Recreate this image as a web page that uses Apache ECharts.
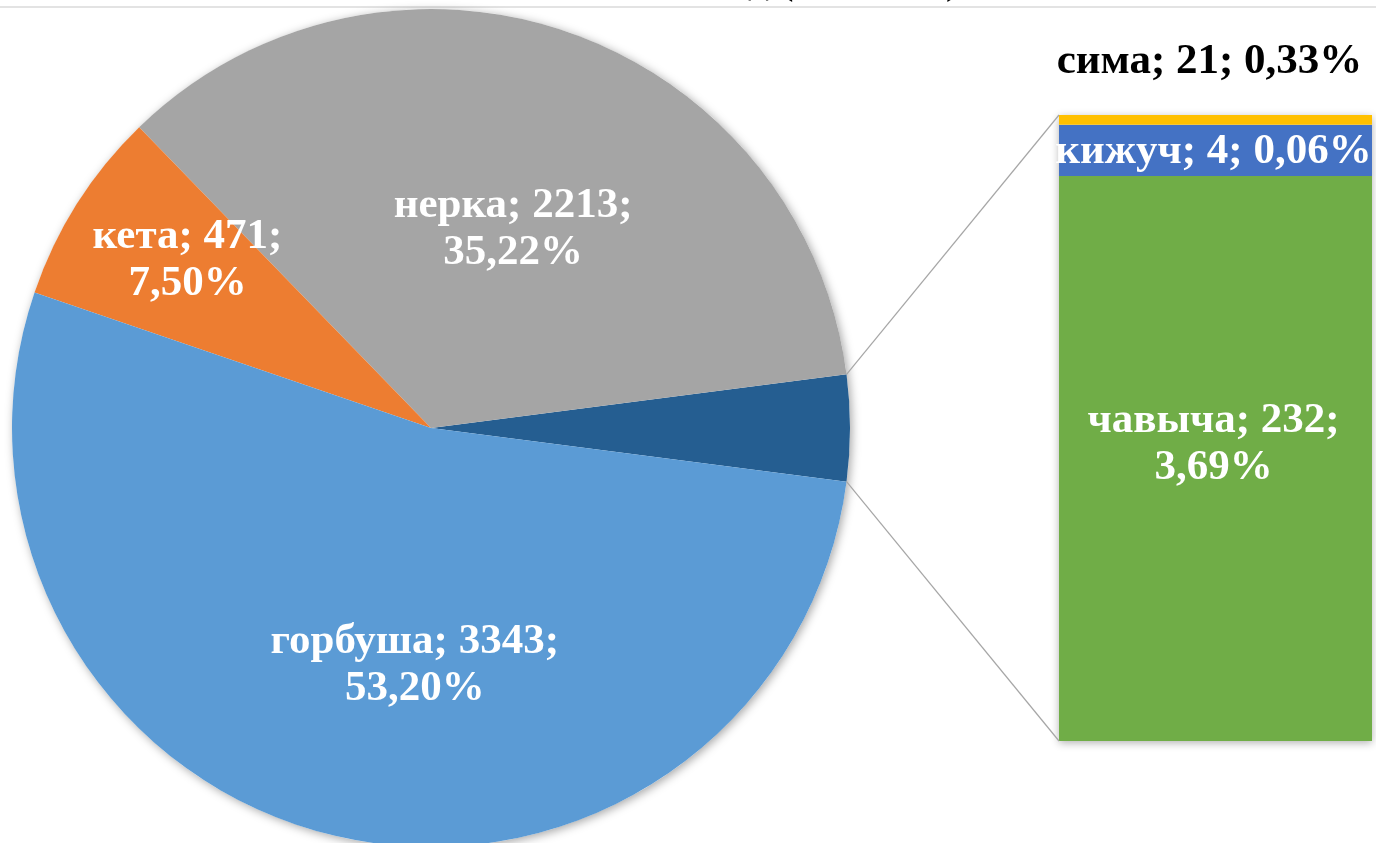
<!DOCTYPE html>
<html>
<head>
<meta charset="utf-8">
<title>pie of bar</title>
<script src="https://cdn.jsdelivr.net/npm/echarts@6/dist/echarts.min.js"></script>
<style>
  html, body { margin: 0; padding: 0; background: #fff; }
  #chart { width: 1376px; height: 843px; }
</style>
</head>
<body>
<div id="chart"></div>
<script>
// main pie
const pieNames = ['нерка', 'кета', 'горбуша'];
const pieValues = [2213, 471, 3343];
// secondary bar (labels use the real values)
const barNames = ['чавыча', 'кижуч', 'сима'];
const barValues = [232, 4, 21];
// segment sizes as they are drawn in the picture
const barDrawn = [232, 21, 4];
const titleText = 'Вылов лососей за 2020 год (тонн, %)';

const otherValue = barValues.reduce((a, b) => a + b, 0);
const total = pieValues.reduce((a, b) => a + b, 0) + otherValue;
const drawnTotal = barDrawn.reduce((a, b) => a + b, 0);

const pct = v => (v / total * 100).toFixed(2).replace('.', ',') + '%';

const W = 1376, H = 843;
const cx = 431, cy = 428, R = 419;
const gridLeft = 1059, gridRight = 4, gridTop = 115, gridBottom = 102;

const pieColors = ['#255E91', '#A5A5A5', '#ED7D31', '#5B9BD5'];
const barColors = ['#70AD47', '#4472C4', '#FFC000'];
// nudges of the inside labels (by pie data index); echarts seems to apply them twice
const pieLabelShift = [null, [6, 1], [-32, -27], [16, 15]];

const font = {
  fontFamily: 'Liberation Serif, Times New Roman, serif',
  fontWeight: 'bold',
  fontSize: 43,
  lineHeight: 47
};

const pieData = [{ name: 'прочие', value: otherValue, label: { show: false } }]
  .concat(pieNames.map((n, i) => ({ name: n, value: pieValues[i] })));

const chart = echarts.init(document.getElementById('chart'), null, { renderer: 'canvas' });

const barSeries = barNames.map((n, i) => {
  let label;
  if (i === 0) {
    label = Object.assign({ show: true, position: 'inside', color: '#fff', offset: [-2, -14],
      formatter: () => n + '; ' + barValues[i] + ';\n' + pct(barValues[i]) }, font);
  } else if (i === 1) {
    label = Object.assign({ show: true, position: 'inside', color: '#fff', offset: [-2, 2],
      formatter: () => n + '; ' + barValues[i] + '; ' + pct(barValues[i]) }, font);
  } else {
    label = Object.assign({ show: true, position: 'top', distance: 30, color: '#000', offset: [-6, 0],
      formatter: () => n + '; ' + barValues[i] + '; ' + pct(barValues[i]) }, font);
  }
  return {
    type: 'bar',
    name: n,
    stack: 'mini',
    data: [barDrawn[i]],
    barWidth: '100%',
    barGap: '-100%',
    itemStyle: { color: barColors[i] },
    label: label,
    silent: true,
    z: 3
  };
});

chart.setOption({
  animation: false,
  backgroundColor: '#fff',
  title: {
    text: titleText,
    right: 411,
    top: -46,
    textStyle: Object.assign({ color: '#000' }, font, { fontSize: 42 })
  },
  grid: { left: gridLeft, right: gridRight, top: gridTop, bottom: gridBottom },
  xAxis: { type: 'category', data: ['x'], show: false },
  yAxis: { type: 'value', min: 0, max: drawnTotal, show: false },
  series: [
    {
      // shadow under the whole pie
      type: 'pie',
      center: [cx, cy],
      radius: R,
      silent: true,
      label: { show: false },
      data: [{ value: 1, itemStyle: { color: '#fff', shadowBlur: 10, shadowColor: 'rgba(0,0,0,0.35)', shadowOffsetX: 2, shadowOffsetY: 2 } }],
      z: 1
    },
    {
      type: 'pie',
      center: [cx, cy],
      radius: R,
      clockwise: false,
      startAngle: -(otherValue / total) * 180,
      avoidLabelOverlap: false,
      silent: true,
      data: pieData,
      itemStyle: { color: p => pieColors[p.dataIndex] },
      label: Object.assign({
        show: true,
        position: 'inside',
        color: '#fff',
        formatter: p => p.name + '; ' + p.value + ';\n' + pct(p.value)
      }, font),
      labelLine: { show: false },
      labelLayout: p => {
        const s = pieLabelShift[p.dataIndex];
        return s ? { dx: s[0], dy: s[1] } : {};
      },
      z: 2
    },
    {
      // shadow under the bar
      type: 'bar',
      data: [drawnTotal],
      barWidth: '100%',
      itemStyle: { color: '#fff', shadowBlur: 8, shadowColor: 'rgba(0,0,0,0.3)', shadowOffsetX: 0, shadowOffsetY: 2 },
      silent: true,
      z: 1
    }
  ].concat(barSeries)
});

// connector lines from the "other" slice to the bar
const half = (otherValue / total) * Math.PI;
const px = cx + R * Math.cos(half);
const pyTop = cy - R * Math.sin(half);
const pyBot = cy + R * Math.sin(half);
const barTop = gridTop;
const barBot = H - gridBottom;
const lineStyle = { stroke: '#A6A6A6', lineWidth: 1.2 };
chart.setOption({
  graphic: [
    { type: 'line', z: 0, shape: { x1: 0, y1: 7, x2: W, y2: 7 }, style: { stroke: '#E3E3E3', lineWidth: 2 } },
    { type: 'line', z: 5, shape: { x1: px, y1: pyTop, x2: gridLeft, y2: barTop }, style: lineStyle },
    { type: 'line', z: 5, shape: { x1: px, y1: pyBot, x2: gridLeft, y2: barBot }, style: lineStyle }
  ]
});
</script>
</body>
</html>
